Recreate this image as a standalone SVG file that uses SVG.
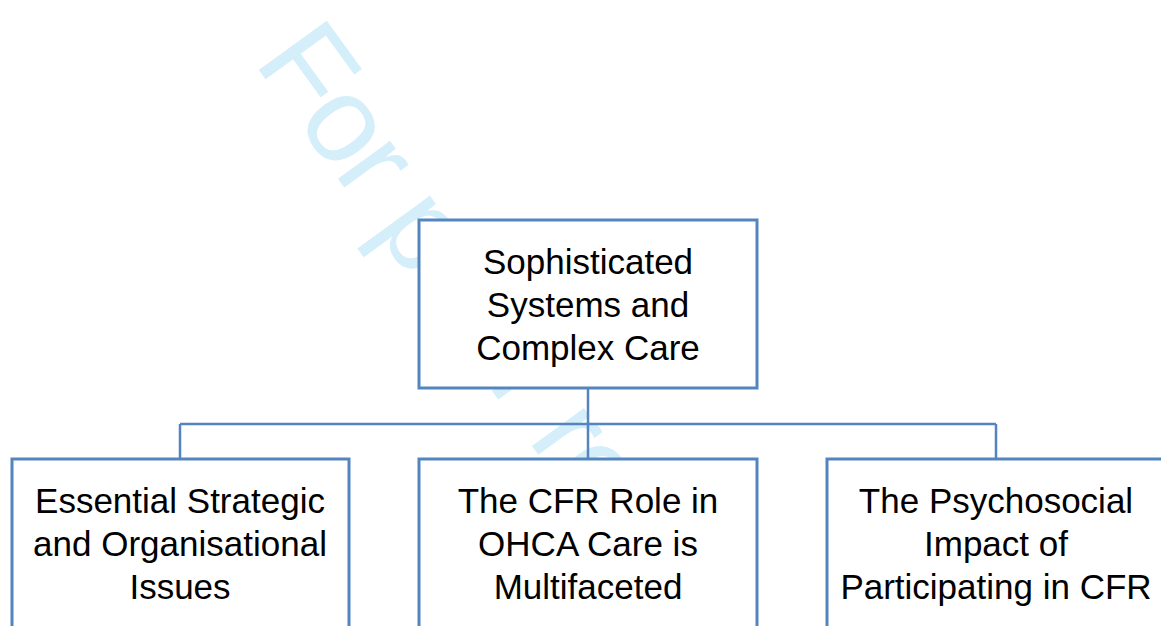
<svg xmlns="http://www.w3.org/2000/svg" width="1161" height="626" viewBox="0 0 1161 626">
<style>
.box{fill:#fff;stroke:#5585BF;stroke-width:3}
.lbl{font-family:"Liberation Sans",Arial,sans-serif;font-size:35px;fill:#000;text-anchor:middle}
.conn{stroke:#5585BF;stroke-width:2.5;fill:none}
.wm{font-family:"Liberation Sans",Arial,sans-serif;font-size:122px;fill:#D4EEFA;letter-spacing:-3.2px}
</style>
<rect width="1161" height="626" fill="#fff"/>
<text class="wm" transform="translate(253,62) rotate(54)">For peer review only</text>
<g id="connectors">
<path class="conn" d="M588,388 V459 M180,424 H996 M180,424 V459 M996,424 V459"/>
</g>
<g id="root">
<rect class="box" x="419" y="220" width="338" height="168"/>
<text class="lbl" x="588" y="274">Sophisticated</text>
<text class="lbl" x="588" y="317">Systems and</text>
<text class="lbl" x="588" y="360">Complex Care</text>
</g>
<g id="child1">
<rect class="box" x="12" y="459" width="337" height="190"/>
<text class="lbl" x="180" y="513">Essential Strategic</text>
<text class="lbl" x="180" y="556">and Organisational</text>
<text class="lbl" x="180" y="599">Issues</text>
</g>
<g id="child2">
<rect class="box" x="419" y="459" width="338" height="190"/>
<text class="lbl" x="588" y="513">The CFR Role in</text>
<text class="lbl" x="588" y="556">OHCA Care is</text>
<text class="lbl" x="588" y="599">Multifaceted</text>
</g>
<g id="child3">
<rect class="box" x="827" y="459" width="338" height="190"/>
<text class="lbl" x="996" y="513">The Psychosocial</text>
<text class="lbl" x="996" y="556">Impact of</text>
<text class="lbl" x="996" y="599">Participating in CFR</text>
</g>
</svg>
